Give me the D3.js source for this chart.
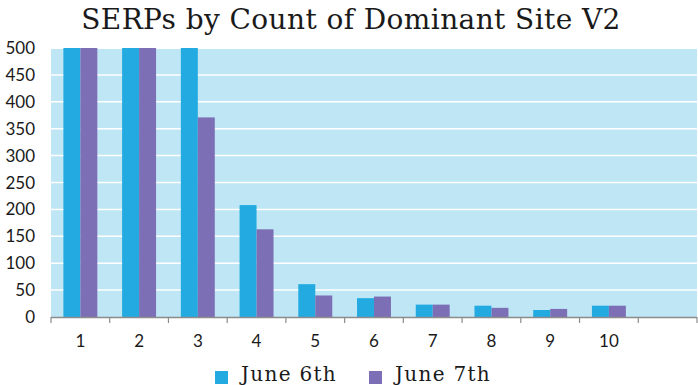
<!DOCTYPE html>
<html lang="en">
  <head>
    <meta charset="UTF-8" />
    <title>SERPs by Count of Dominant Site V2</title>
    <script src="https://cdnjs.cloudflare.com/ajax/libs/d3/7.9.0/d3.min.js"></script>
    <style>
      html, body { margin: 0; padding: 0; background: #ffffff; }
      svg { display: block; }
      .title { font-family: "DejaVu Serif", serif; font-weight: 300; fill: #1a1a1a; }
      .tick-label { font-family: Lato, "Open Sans", sans-serif; fill: #1a1a1a; }
      .legend text { font-family: "DejaVu Serif", serif; fill: #1a1a1a; }
    </style>
  </head>
  <body>
    <svg id="chart" width="698" height="385"></svg>
    <script>
      /* ---------- data (1-3 are clipped at 500) ---------- */
      const categories = ["1", "2", "3", "4", "5", "6", "7", "8", "9", "10", ""];
      const seriesNames = ["June 6th", "June 7th"];
      const june6 = [500, 500, 500, 208, 61, 35, 23, 21, 13, 21];
      const june7 = [500, 500, 371, 163, 40, 38, 23, 17, 15, 21];
      const yTicks = [0, 50, 100, 150, 200, 250, 300, 350, 400, 450, 500];
      const colors = ["#22aae1", "#7d6fb5"];

      const svg = d3.select("#chart");
      const plot = { left: 51, right: 697, top: 48, bottom: 317 };

      const x = d3.scaleBand().domain(categories).range([plot.left, plot.right]).padding(0);
      const xSub = d3.scaleBand().domain(seriesNames).range([0, x.bandwidth()]).paddingInner(0).paddingOuter(0.73);
      const y = d3.scaleLinear().domain([0, 500]).range([plot.bottom, plot.top]);

      // background
      svg.append("rect")
        .attr("x", plot.left).attr("y", y(500) + 1)
        .attr("width", plot.right - plot.left).attr("height", plot.bottom - y(500) - 1)
        .attr("fill", "#bee6f5");

      // gridlines
      svg.append("g")
        .selectAll("line")
        .data(yTicks.filter((t) => t > 0 && t < 500))
        .join("line")
        .attr("x1", plot.left).attr("x2", plot.right)
        .attr("y1", (d) => y(d)).attr("y2", (d) => y(d))
        .attr("stroke", "#ffffff").attr("stroke-width", 1.5);

      // bars
      const rows = categories.slice(0, june6.length).map((c, i) => ({ cat: c, vals: [june6[i], june7[i]] }));
      const groups = svg.append("g")
        .selectAll("g")
        .data(rows)
        .join("g")
        .attr("transform", (d) => `translate(${x(d.cat)},0)`);
      groups.selectAll("rect")
        .data((d) => d.vals.map((v, k) => ({ name: seriesNames[k], v, k })))
        .join("rect")
        .attr("x", (d) => xSub(d.name))
        .attr("width", xSub.bandwidth())
        .attr("y", (d) => y(d.v))
        .attr("height", (d) => plot.bottom - y(d.v))
        .attr("fill", (d) => colors[d.k]);

      // x axis
      const xAxis = svg.append("g");
      xAxis.append("line")
        .attr("x1", plot.left).attr("x2", plot.right)
        .attr("y1", plot.bottom + 0.5).attr("y2", plot.bottom + 0.5)
        .attr("stroke", "#8c8c8c").attr("stroke-width", 1.5);
      const bounds = categories.map((c) => x(c)).concat([plot.right]);
      xAxis.selectAll("line.tick")
        .data(bounds)
        .join("line")
        .attr("class", "tick")
        .attr("x1", (d) => d).attr("x2", (d) => d)
        .attr("y1", plot.bottom).attr("y2", plot.bottom + 6)
        .attr("stroke", "#8c8c8c").attr("stroke-width", 1.2);
      xAxis.selectAll("text")
        .data(categories)
        .join("text")
        .attr("class", "tick-label")
        .attr("x", (d) => x(d) + x.bandwidth() / 2)
        .attr("y", 347)
        .attr("text-anchor", "middle")
        .attr("font-size", 17)
        .text((d) => d);

      // y labels
      svg.append("g")
        .selectAll("text")
        .data(yTicks)
        .join("text")
        .attr("class", "tick-label")
        .attr("x", 35)
        .attr("y", (d) => y(d) + 6)
        .attr("text-anchor", "end")
        .attr("font-size", 17)
        .text((d) => d);

      // title
      svg.append("text")
        .attr("class", "title")
        .attr("x", 351).attr("y", 29)
        .attr("text-anchor", "middle")
        .attr("font-size", 28)
        .attr("letter-spacing", 0.4)
        .text("SERPs by Count of Dominant Site V2");

      // legend
      const legendX = [215, 369];
      const legend = svg.append("g").attr("class", "legend");
      seriesNames.forEach((name, i) => {
        legend.append("rect")
          .attr("x", legendX[i]).attr("y", 371)
          .attr("width", 13).attr("height", 13)
          .attr("fill", colors[i]);
        legend.append("text")
          .attr("x", legendX[i] + 26).attr("y", 381)
          .attr("font-size", 20)
          .attr("letter-spacing", 1.3)
          .text(name);
      });
    </script>
  </body>
</html>
